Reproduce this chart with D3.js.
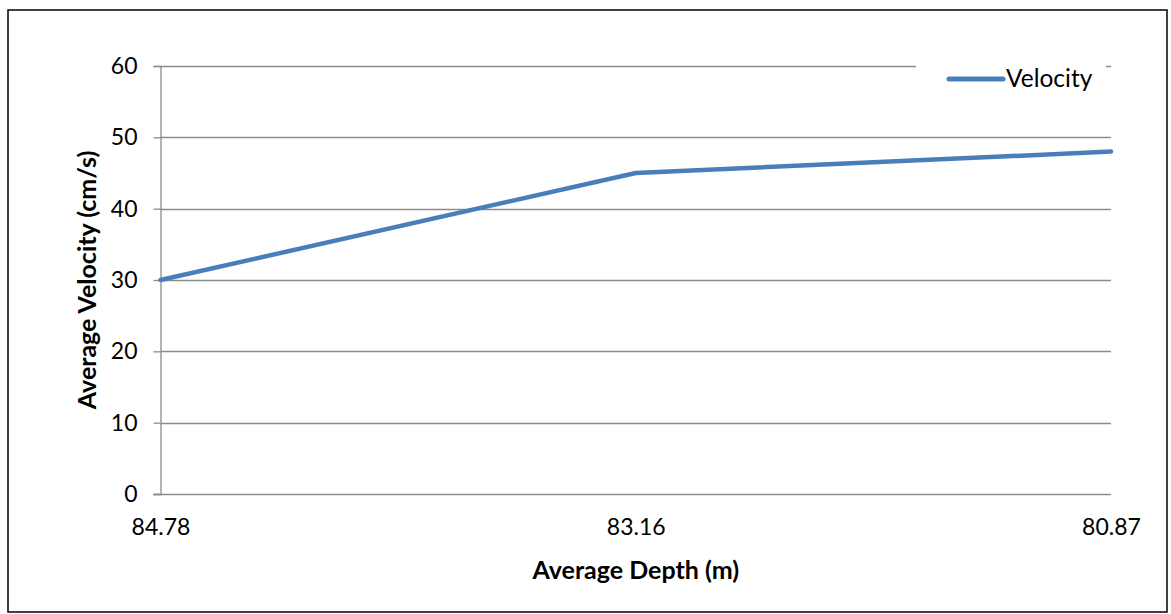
<!DOCTYPE html>
<html>
<head>
<meta charset="utf-8">
<script src="https://cdn.jsdelivr.net/npm/d3@7/dist/d3.min.js"></script>
<style>
  html, body { margin: 0; padding: 0; background: #fff; }
  svg { display: block; font-family: Lato, "Open Sans", sans-serif; }
</style>
</head>
<body>
<svg id="chart" width="1171" height="614"></svg>
<script>
// Average velocity at each average depth
const depths = ["84.78", "83.16", "80.87"];
const velocities = [30, 45, 48];
const yTicks = [0, 10, 20, 30, 40, 50, 60];
const seriesName = "Velocity";

const svg = d3.select("#chart");
const W = 1171, H = 614;
const plot = { left: 160.5, right: 1111, top: 66, bottom: 494 };

// outer frame
svg.append("rect")
  .attr("x", 8).attr("y", 10)
  .attr("width", W - 12).attr("height", H - 12)
  .attr("fill", "#fff").attr("stroke", "#000").attr("stroke-width", 1.5);

const x = d3.scalePoint().domain(depths).range([plot.left, plot.right]);
const y = d3.scaleLinear().domain([0, 60]).range([plot.bottom, plot.top]);

// horizontal gridlines
svg.append("g").selectAll("line")
  .data(yTicks.filter(d => d > 0))
  .join("line")
  .attr("x1", plot.left).attr("x2", plot.right)
  .attr("y1", d => Math.round(y(d)) + 0.5).attr("y2", d => Math.round(y(d)) + 0.5)
  .attr("stroke", "#8c8c8c").attr("stroke-width", 1.3);

// y axis
const yAxis = svg.append("g")
  .attr("transform", `translate(${plot.left},0)`)
  .call(d3.axisLeft(y).tickValues(yTicks).tickSize(7).tickPadding(16));
yAxis.select(".domain").attr("stroke", "#8c8c8c").attr("stroke-width", 1.3);
yAxis.selectAll(".tick line").attr("stroke", "#8c8c8c").attr("stroke-width", 1.3);
yAxis.selectAll("text").attr("font-size", 23).attr("fill", "#000")
  .attr("font-family", "Lato, sans-serif");

// x axis
const xAxis = svg.append("g")
  .attr("transform", `translate(0,${plot.bottom + 0.5})`)
  .call(d3.axisBottom(x).tickSize(0).tickPadding(24));
xAxis.select(".domain").attr("stroke", "#8c8c8c").attr("stroke-width", 1.3)
  .attr("d", `M${plot.left - 7},0H${plot.right}`);
xAxis.selectAll("text").attr("font-size", 23).attr("fill", "#000")
  .attr("font-family", "Lato, sans-serif");

// series line
const line = d3.line().x((d, i) => x(depths[i])).y(d => y(d));
svg.append("path")
  .datum(velocities)
  .attr("d", line)
  .attr("fill", "none")
  .attr("stroke", "#4a7ebb")
  .attr("stroke-width", 4.5)
  .attr("stroke-linejoin", "round")
  .attr("stroke-linecap", "round");

// legend (white box covers the top gridline)
const lg = svg.append("g");
lg.append("rect").attr("x", 916).attr("y", 56).attr("width", 190).attr("height", 46).attr("fill", "#fff");
lg.append("line")
  .attr("x1", 949).attr("x2", 1003).attr("y1", 79).attr("y2", 79)
  .attr("stroke", "#4a7ebb").attr("stroke-width", 5).attr("stroke-linecap", "round");
lg.append("text")
  .attr("x", 1006).attr("y", 87)
  .attr("font-size", 24.5).text(seriesName);

// axis titles
svg.append("text")
  .attr("x", (plot.left + plot.right) / 2).attr("y", 579)
  .attr("text-anchor", "middle").attr("font-size", 25).attr("font-weight", "bold")
  .text("Average Depth (m)");
svg.append("text")
  .attr("transform", `translate(96,280) rotate(-90)`)
  .attr("text-anchor", "middle").attr("font-size", 25).attr("font-weight", "bold")
  .text("Average Velocity (cm/s)");
</script>
</body>
</html>
